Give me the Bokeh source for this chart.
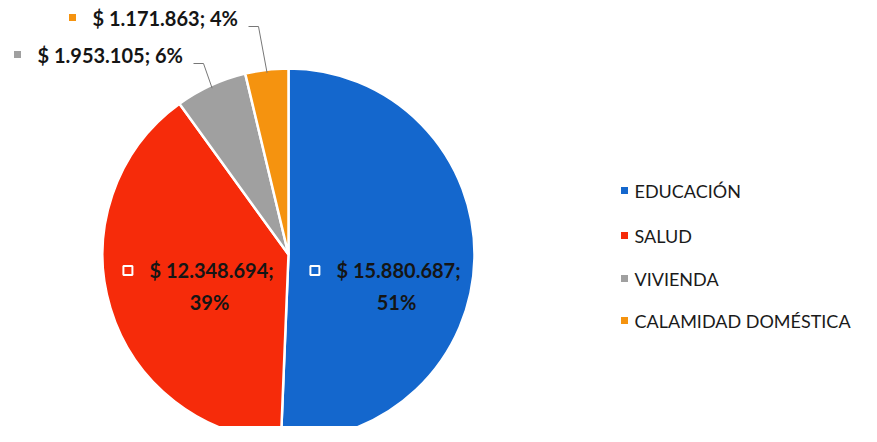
import math
from bokeh.plotting import figure
from bokeh.models import ColumnDataSource
from bokeh.core.properties import value
from bokeh.embed import file_html
from bokeh.resources import INLINE

categories = ["EDUCACIÓN", "SALUD", "VIVIENDA", "CALAMIDAD DOMÉSTICA"]
values = [15880687, 12348694, 1953105, 1171863]
colors = ["#1467cd", "#f62b0a", "#a0a0a0", "#f5930f"]

W, H = 861, 426
p = figure(width=W, height=H, x_range=(0, W), y_range=(0, H),
           output_backend="svg", toolbar_location=None, min_border=0)
p.axis.visible = False
p.grid.visible = False
p.outline_line_color = None
p.background_fill_color = "white"

cx, cy, R = 288, 172, 186
total = sum(values)
starts, ends = [], []
a = math.pi / 2
for v in values:
    span = 2 * math.pi * v / total
    starts.append(a - span)
    ends.append(a)
    a -= span

src = ColumnDataSource(dict(start=starts, end=ends, color=colors))
p.wedge(x=cx, y=cy, radius=R, start_angle="start", end_angle="end",
        fill_color="color", line_color="white", line_width=2.5, source=src)

def money(v):
    return "$ " + f"{v:,}".replace(",", ".")

pcts = [round(100 * v / total) for v in values]
FONT = value("Lato")
LBL = dict(text_font=FONT, text_font_size="20px", text_font_style="bold",
           text_color="#151515", text_baseline="middle")

# inside labels: (index, radius fraction, angle offset)
inside = [(0, 0.616, math.radians(-15.0)), (1, 0.448, math.radians(5.8))]
for i, frac, dang in inside:
    mid = (starts[i] + ends[i]) / 2 + dang
    lx = cx + R * frac * math.cos(mid)
    ly = cy + R * frac * math.sin(mid)
    t1 = money(values[i]) + ";"
    p.text(x=[lx], y=[ly + 16], text=[t1], text_align="center", **LBL)
    p.text(x=[lx - 2], y=[ly - 16], text=[f"{pcts[i]}%"], text_align="center", **LBL)
    tw = 10.1 * len(t1)
    p.rect(x=[lx - tw / 2 - 18], y=[ly + 16], width=9, height=9,
           fill_color=colors[i], line_color="white", line_width=2)

# outside labels: (index, text x, text y, elbow x)
outside = [(2, 37, 372, 203), (3, 92, 409, 258)]
for i, tx, ty, elbow in outside:
    mid = (starts[i] + ends[i]) / 2
    ex = cx + (R - 3) * math.cos(mid)
    ey = cy + (R - 3) * math.sin(mid)
    p.text(x=[tx], y=[ty], text=[f"{money(values[i])}; {pcts[i]}%"], text_align="left", **LBL)
    p.rect(x=[tx - 20], y=[ty], width=7, height=7, fill_color=colors[i], line_color=None)
    p.line(x=[elbow - 10, elbow, ex], y=[ty - 9, ty - 9, ey],
           line_color="#777777", line_width=1)

# legend
leg_y = [236, 191, 148, 106]
for c, col, yy in zip(categories, colors, leg_y):
    p.rect(x=[624], y=[yy], width=7, height=7, fill_color=col, line_color=None)
    p.text(x=[634], y=[yy], text=[c], text_align="left", text_baseline="middle",
           text_font=FONT, text_font_size="18px", text_color="#1a1a1a")

open("out.html", "w").write(file_html(p, INLINE))
